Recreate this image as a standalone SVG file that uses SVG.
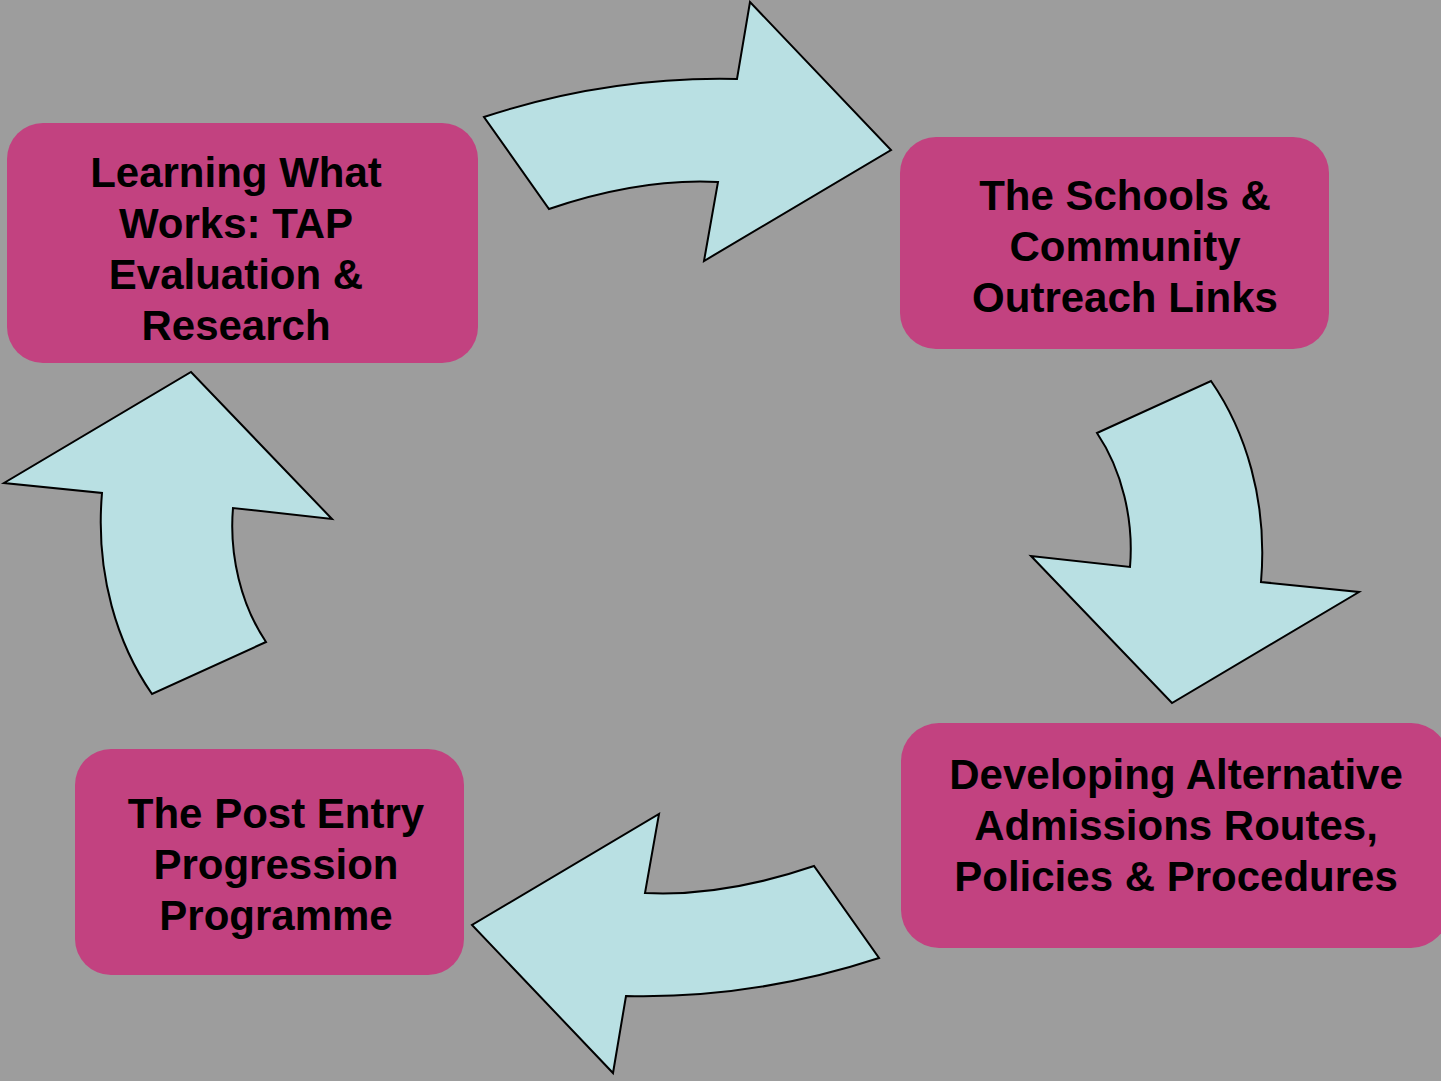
<svg xmlns="http://www.w3.org/2000/svg" width="1441" height="1081" viewBox="0 0 1441 1081">
<style>
.box{fill:#c24280;}
.lbl{font-family:"Liberation Sans",Arial,sans-serif;font-weight:bold;font-size:42px;fill:#000;text-anchor:middle;}
.arr{fill:#b9e0e3;stroke:#000;stroke-width:2;stroke-linejoin:miter;}
</style>
<defs>
<path id="arrH" d="M484,117 Q609,76 737,79 L750,2 L891,150 L704,261 L718,182 Q640,178 549,209 Z"/>
<path id="arrV" d="M1097,433 L1211,381 C1245,430 1268,500 1261,582 L1359,592 L1172,703 L1031,556 L1130,567 C1134,520 1122,470 1097,433 Z"/>
</defs>
<rect x="0" y="0" width="1441" height="1081" fill="#9d9d9d"/>
<g id="connectors">
<use href="#arrH" class="arr"/>
<use href="#arrV" class="arr"/>
<use href="#arrH" class="arr" transform="rotate(180 681.5 537.5)"/>
<use href="#arrV" class="arr" transform="rotate(180 681.5 537.5)"/>
</g>
<g id="node-learning">
<rect class="box" x="7" y="123" width="471" height="240" rx="36"/>
<text class="lbl" x="236" y="187">Learning What</text>
<text class="lbl" x="236" y="238">Works: TAP</text>
<text class="lbl" x="236" y="289">Evaluation &amp;</text>
<text class="lbl" x="236" y="340">Research</text>
</g>
<g id="node-schools">
<rect class="box" x="900" y="137" width="429" height="212" rx="36"/>
<text class="lbl" x="1125" y="210">The Schools &amp;</text>
<text class="lbl" x="1125" y="261">Community</text>
<text class="lbl" x="1125" y="312">Outreach Links</text>
</g>
<g id="node-admissions">
<rect class="box" x="901" y="723" width="548" height="225" rx="38"/>
<text class="lbl" x="1176" y="789">Developing Alternative</text>
<text class="lbl" x="1176" y="840">Admissions Routes,</text>
<text class="lbl" x="1176" y="891">Policies &amp; Procedures</text>
</g>
<g id="node-postentry">
<rect class="box" x="75" y="749" width="389" height="226" rx="36"/>
<text class="lbl" x="276" y="828">The Post Entry</text>
<text class="lbl" x="276" y="879">Progression</text>
<text class="lbl" x="276" y="930">Programme</text>
</g>
</svg>
